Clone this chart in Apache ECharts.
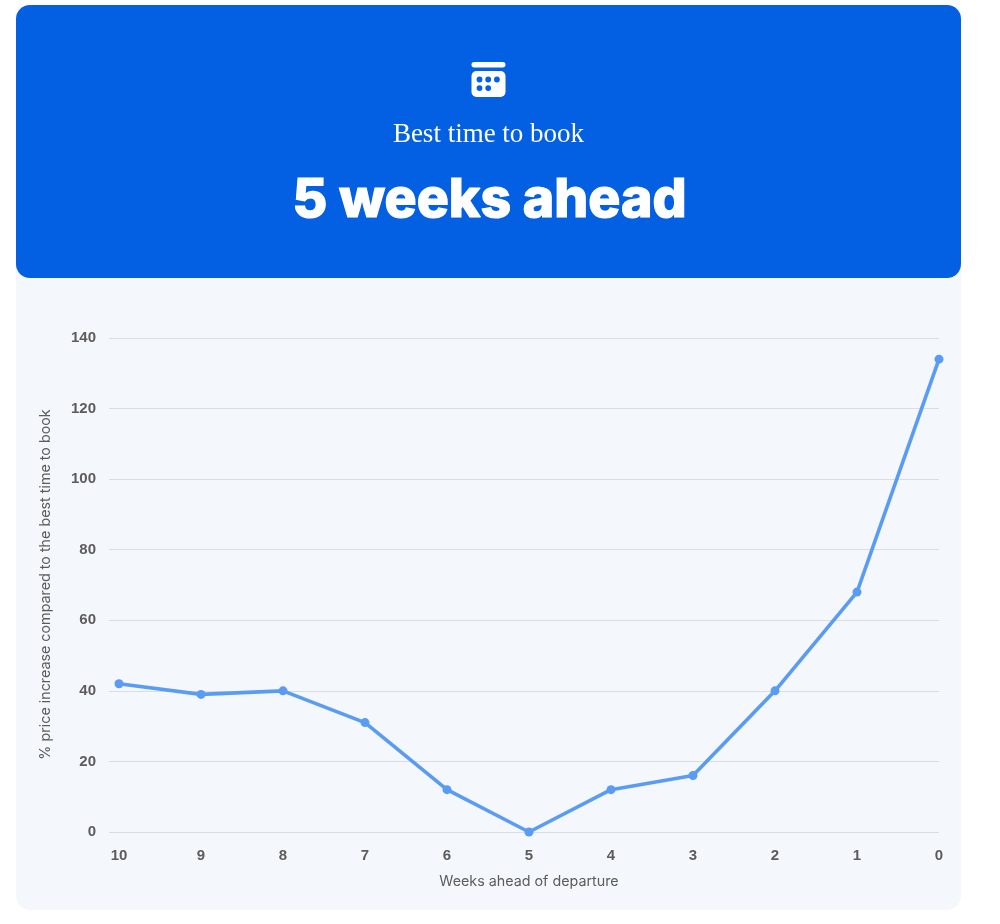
<!DOCTYPE html>
<html><head><meta charset="utf-8">
<style>html,body{margin:0;padding:0;background:#fff}#c{width:1000px;height:924px}</style>
<script src="https://cdn.jsdelivr.net/npm/echarts@6/dist/echarts.min.js"></script>
</head><body><div id="c"></div>
<script>
const weeksAhead = [10, 9, 8, 7, 6, 5, 4, 3, 2, 1, 0];
const priceIncrease = [42, 39, 40, 31, 12, 0, 12, 16, 40, 68, 134];
const yTicks = [0, 20, 40, 60, 80, 100, 120, 140];
const kicker = 'Best time to book';
const headline = '5 weeks ahead';
const xName = 'Weeks ahead of departure';
const yName = '% price increase compared to the best time to book';

const chart = echarts.init(document.getElementById('c'), null, {renderer: 'canvas'});
const dots = [[0,0],[1,0],[2,0],[0,1],[1,1]];
const labelStyle = {color: '#5c5c5c', fontFamily: 'Liberation Sans', fontWeight: 700, fontSize: 15};
chart.setOption({
  animation: false,
  backgroundColor: '#fff',
  grid: {left: 109, right: 61, top: 338, bottom: 92},
  xAxis: {
    type: 'value', inverse: true, min: 0, max: 10.122, interval: 1,
    axisLine: {show: false}, axisTick: {show: false}, splitLine: {show: false},
    axisLabel: {
      ...labelStyle, margin: 16,
      showMaxLabel: false, hideOverlap: false,
      formatter: v => Number.isInteger(v) ? String(v) : ''
    }
  },
  yAxis: {
    type: 'value', min: yTicks[0], max: yTicks[yTicks.length - 1], interval: 20,
    axisLine: {show: false}, axisTick: {show: false},
    splitLine: {lineStyle: {color: '#d8dde6', width: 1.2}},
    axisLabel: {...labelStyle, margin: 13, padding: [2, 0, 0, 0]}
  },
  series: [{
    type: 'line',
    data: weeksAhead.map((w, i) => [w, priceIncrease[i]]),
    clip: false, z: 5,
    symbol: 'circle', symbolSize: 9, showSymbol: true,
    lineStyle: {color: '#5a9cf3', width: 3.6},
    itemStyle: {color: '#5a9cf3'}
  }],
  graphic: [
    {type: 'rect', z: -10, shape: {x: 16, y: 240, width: 945, height: 670, r: 14}, style: {fill: '#f4f8fd'}},
    {type: 'rect', z: -9, shape: {x: 16, y: 5, width: 945, height: 273, r: 14}, style: {fill: '#0360e3'}},
    {type: 'rect', z: -8, shape: {x: 471.5, y: 62, width: 34, height: 5.5, r: 2.7}, style: {fill: '#fff'}},
    {type: 'rect', z: -8, shape: {x: 471.5, y: 71, width: 34, height: 26, r: 5}, style: {fill: '#fff'}},
    ...dots.map(d => ({type: 'circle', z: -7, shape: {cx: 479.5 + d[0] * 8.7, cy: 79.5 + d[1] * 8.6, r: 2.9}, style: {fill: '#0360e3'}})),
    {type: 'text', z: -7, x: 488.5, y: 135, style: {text: kicker, fill: '#fff', font: '400 27px "Liberation Serif"', align: 'center', verticalAlign: 'middle'}},
    {type: 'text', z: -7, x: 489.5, y: 201, style: {text: headline, fill: '#fff', stroke: '#fff', lineWidth: 1.2, font: '800 53.5px Inter', align: 'center', verticalAlign: 'middle'}},
    {type: 'text', x: 529, y: 882, style: {text: xName, fill: '#5c5c5c', font: '400 14.3px Inter', align: 'center', verticalAlign: 'middle'}},
    {type: 'text', x: 46, y: 584.5, rotation: Math.PI / 2, style: {text: yName, fill: '#5c5c5c', font: '400 14.3px Inter', align: 'center', verticalAlign: 'middle'}}
  ]
});
</script></body></html>
